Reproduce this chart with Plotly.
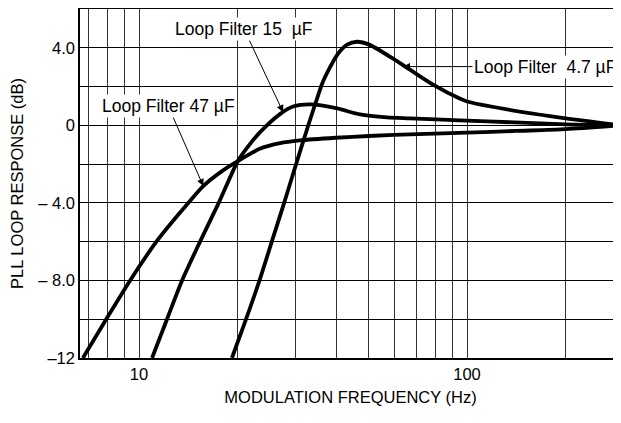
import math
import plotly.graph_objects as go

# Curve data (frequency in Hz, response in dB)
f_47 = [6.745, 7.943, 9.397, 11.30, 13.34, 15.70, 17.78, 20.0, 23.44, 26.92, 30.90, 39.8, 50.1, 70.8, 100.0, 141.0, 200.0, 295.0]
db_47 = [-12, -10, -8, -6, -4.5, -3.13, -2.4, -1.85, -1.2, -0.92, -0.78, -0.64, -0.55, -0.45, -0.38, -0.29, -0.2, 0]

f_15 = [10.96, 12.17, 13.53, 15.35, 17.5, 20.0, 21.6, 23.4, 26.9, 29.5, 33.5, 40.2, 47.2, 57.0, 67.0, 95.0, 140.0, 200.0, 295.0]
db_15 = [-12, -10, -8, -6, -4, -1.85, -1.05, -0.35, 0.58, 0.97, 1.08, 0.87, 0.56, 0.41, 0.36, 0.26, 0.15, 0.05, 0]

f_4p7 = [19.2, 21.2, 23.3, 25.4, 27.7, 29.5, 31.3, 33.1, 34.9, 36.4, 40.2, 43.0, 46.2, 50.5, 59.5, 67.0, 78.8, 95.0, 100.0, 132.5, 200.0, 295.0]
db_4p7 = [-12, -10, -8, -6, -4, -2.5, -1.1, 0.2, 1.38, 2.26, 3.64, 4.15, 4.31, 4.15, 3.44, 2.87, 2.1, 1.38, 1.23, 0.82, 0.36, 0]

x_tick_vals = [10, 100]
x_tick_text = ["10", "100"]
x_minor_vals = [7, 8, 9, 20, 30, 40, 50, 60, 70, 80, 90, 200]
y_tick_vals = [-12, -8, -4, 0, 4]
y_tick_text = ["\u201312", "\u2013 8.0", "\u2013 4.0", "0", "4.0"]
y_minor_vals = [-10, -6, -2, 2]

labels = ["Loop Filter 47 \u00b5F", "Loop Filter 15 \u00a0\u00b5F", "Loop Filter \u00a04.7 \u00b5F"]
label_points = [(15.7, -3.13), (27.5, 0.68), (63.8, 3.03)]
label_offsets = [(-35, -80), (-39, -83), (142, 0)]

FONT = "Liberation Sans, Arial, sans-serif"

fig = go.Figure()
for fx, dy in [(f_47, db_47), (f_15, db_15), (f_4p7, db_4p7)]:
    fig.add_trace(go.Scatter(x=fx, y=dy, mode="lines",
                             line=dict(color="black", width=3.8, shape="spline", smoothing=0.7),
                             showlegend=False, hoverinfo="skip"))

for txt, (px, py), (ax, ay) in zip(labels, label_points, label_offsets):
    fig.add_annotation(x=math.log10(px), y=py, text=txt, ax=ax, ay=ay,
                       showarrow=True, arrowhead=2, arrowsize=1.4, arrowwidth=1, arrowcolor="black",
                       bgcolor="white", borderpad=1,
                       font=dict(family=FONT, size=17.5, color="black"))

fig.update_layout(
    width=613, height=407,
    margin=dict(l=72, r=0, t=1, b=57),
    paper_bgcolor="white", plot_bgcolor="white",
    font=dict(family=FONT, size=16.5, color="black"),
    xaxis=dict(type="log", range=[0.8201, 2.4695], tickmode="array", tickvals=x_tick_vals, ticktext=x_tick_text,
               showgrid=True, gridcolor="#333", gridwidth=1.2, ticks="", zeroline=False,
               showline=True, linecolor="black", linewidth=1.5, mirror=True,
               minor=dict(tickmode="array", tickvals=x_minor_vals, showgrid=True, gridcolor="#333", gridwidth=1.2, ticks=""),
               title=dict(text="MODULATION FREQUENCY (Hz)", font=dict(size=16.5), standoff=10),
               tickfont=dict(size=16.5), automargin=False),
    yaxis=dict(range=[-12, 6], tickmode="array", tickvals=y_tick_vals, ticktext=y_tick_text,
               showgrid=True, gridcolor="black", gridwidth=1.2, ticks="", zeroline=False,
               showline=True, linecolor="black", linewidth=1.5, mirror=False,
               minor=dict(tickmode="array", tickvals=y_minor_vals, showgrid=True, gridcolor="black", gridwidth=1.2, ticks=""),
               title=dict(text="PLL LOOP RESPONSE (dB)", font=dict(size=16.5), standoff=10),
               tickfont=dict(size=16.5), automargin=False),
)

fig.write_html("out.html")
